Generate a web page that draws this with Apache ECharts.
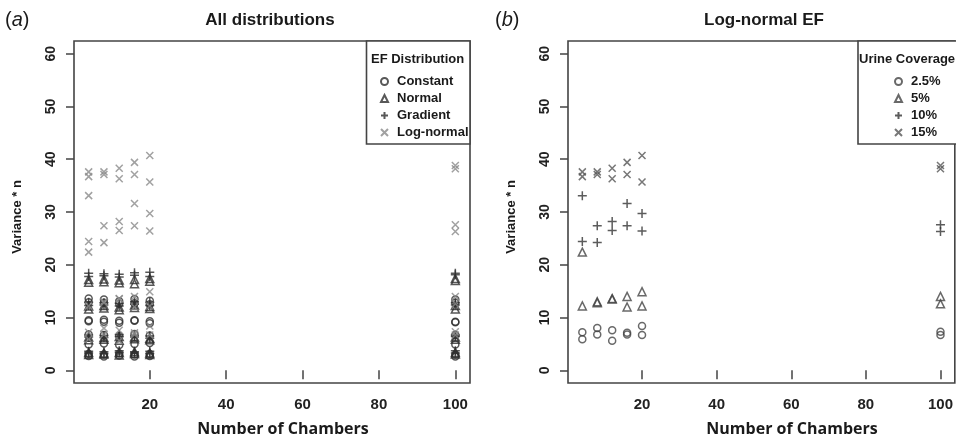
<!DOCTYPE html>
<html>
<head>
<meta charset="utf-8">
<script src="https://cdn.jsdelivr.net/npm/echarts@6/dist/echarts.min.js"></script>
<style>
  html, body { margin: 0; padding: 0; background: #ffffff; }
  #chart { width: 956px; height: 437px; }
</style>
</head>
<body>
<div id="chart"></div>
<script>
// Chamber counts on the x axis
const chambers = [4, 8, 12, 16, 20, 100];
const xTicks = [20, 40, 60, 80, 100];
const yTicks = [0, 10, 20, 30, 40, 50, 60];

// Variance * n, two replicate runs per chamber count (one [run1, run2] pair per entry of `chambers`)
// Constant EF
const constant25 = [[2.7, 3.1], [2.6, 3.0], [2.8, 3.2], [2.6, 3.0], [2.7, 3.1], [2.6, 3.0]];
const constant5  = [[4.9, 6.8], [5.1, 6.7], [4.8, 6.5], [5.0, 6.9], [5.2, 6.6], [4.9, 6.7]];
const constant10 = [[9.3, 9.5], [9.2, 9.6], [9.0, 9.4], [9.4, 9.5], [8.9, 9.3], [9.1, 9.2]];
const constant15 = [[12.9, 13.6], [12.8, 13.4], [12.6, 13.1], [12.7, 13.5], [12.5, 13.2], [12.8, 13.4]];
// Normal EF
const normal25 = [[3.0, 3.4], [3.1, 3.3], [2.9, 3.4], [3.2, 3.5], [3.0, 3.3], [3.1, 3.4]];
const normal5  = [[5.8, 6.3], [5.9, 6.2], [5.7, 6.4], [6.0, 6.3], [5.8, 6.1], [5.9, 6.3]];
const normal10 = [[11.6, 12.2], [11.8, 12.3], [11.5, 12.0], [11.9, 12.4], [11.7, 12.1], [11.6, 12.3]];
const normal15 = [[16.7, 17.2], [16.8, 17.3], [16.6, 17.1], [16.4, 17.2], [16.9, 17.4], [17.0, 17.4]];
// Gradient EF
const gradient25 = [[3.3, 3.6], [3.2, 3.5], [3.4, 3.7], [3.3, 3.5], [3.2, 3.6], [3.3, 3.7]];
const gradient5  = [[6.3, 6.7], [6.2, 6.6], [6.4, 6.8], [6.3, 6.6], [6.1, 6.5], [6.4, 6.7]];
const gradient10 = [[12.3, 12.9], [12.4, 12.8], [12.2, 12.7], [12.5, 13.0], [12.3, 12.9], [12.4, 12.8]];
const gradient15 = [[17.8, 18.4], [17.9, 18.3], [17.7, 18.2], [18.0, 18.5], [17.8, 18.6], [18.1, 18.4]];
// Log-normal EF, by urine coverage
const logNormal25 = [[7.2, 5.9], [8.0, 6.8], [7.6, 5.6], [7.1, 6.8], [8.4, 6.7], [7.3, 6.7]];
const logNormal5  = [[22.4, 12.2], [13.0, 12.8], [13.6, 13.5], [14.0, 12.0], [14.9, 12.2], [14.0, 12.6]];
const logNormal10 = [[33.1, 24.4], [27.4, 24.2], [28.2, 26.5], [31.6, 27.4], [29.7, 26.4], [27.6, 26.3]];
const logNormal15 = [[37.6, 36.7], [37.6, 37.1], [38.3, 36.3], [39.4, 37.1], [40.7, 35.7], [38.8, 38.2]];

const distributionNames = ['Constant', 'Normal', 'Gradient', 'Log-normal'];
const coverageNames = ['2.5%', '5%', '10%', '15%'];

// Flatten replicate pairs into [chambers, value] points
function toPoints(groups) {
  const pts = [];
  groups.forEach(function (g) {
    g.forEach(function (reps, i) {
      reps.forEach(function (v) { pts.push([chambers[i], v]); });
    });
  });
  return pts;
}

const FONT = "'Liberation Sans', Arial, sans-serif";
const DARK = '#2e2e2e';
const LIGHT = '#8a8a8a';
const FRAME = '#444444';

const SYMBOLS = {
  circle: 'circle',
  triangle: 'triangle',
  plus: 'path://M5,0L5,10M0,5L10,5',
  cross: 'path://M0,0L10,10M10,0L0,10'
};
const SIZES = { circle: 7, triangle: 8, plus: 9, cross: 7 };

function scatter(name, gridIdx, shape, color, data) {
  return {
    name: name,
    type: 'scatter',
    xAxisIndex: gridIdx,
    yAxisIndex: gridIdx,
    symbol: SYMBOLS[shape],
    symbolSize: SIZES[shape],
    data: data,
    itemStyle: { color: 'rgba(0,0,0,0)', borderColor: color, borderWidth: 1.5 },
    emphasis: { disabled: true }
  };
}

function xAxis(gridIdx) {
  return {
    type: 'value', gridIndex: gridIdx, min: 0.16, max: 103.84,
    axisLine: { show: false },
    splitLine: { show: false },
    axisTick: { show: true, length: 9, customValues: xTicks, lineStyle: { color: FRAME, width: 1.5 } },
    axisLabel: { customValues: xTicks, margin: 14, fontSize: 15, fontWeight: 'bold', fontFamily: FONT, color: '#222' }
  };
}
function yAxis(gridIdx) {
  return {
    type: 'value', gridIndex: gridIdx, min: -2.4, max: 62.4,
    axisLine: { show: false },
    splitLine: { show: false },
    axisTick: { show: true, length: 8, customValues: yTicks, lineStyle: { color: FRAME, width: 1.5 } },
    axisLabel: { customValues: yTicks, rotate: 90, margin: 16, fontSize: 14, fontWeight: 'bold', fontFamily: FONT, color: '#222' }
  };
}

function legend(names, left) {
  return {
    orient: 'vertical', left: left, top: 70,
    itemWidth: 7, itemHeight: 7, itemGap: 4,
    data: names, selectedMode: false, z: 10,
    textStyle: { fontSize: 13, fontWeight: 'bold', fontFamily: FONT, color: '#1a1a1a', lineHeight: 13, padding: [0, 0, 0, 4] }
  };
}

function text(x, y, str, font, extra) {
  return Object.assign({
    type: 'text', x: x, y: y, z: 20,
    style: { text: str, font: font, fill: '#1a1a1a', align: 'center', verticalAlign: 'middle' }
  }, extra || {});
}

const option = {
  animation: false,
  backgroundColor: '#ffffff',
  grid: [
    { left: 74, top: 41, width: 396, height: 342, show: true, borderColor: FRAME, borderWidth: 1.6, backgroundColor: 'transparent' },
    { left: 568, top: 41, width: 396, height: 342, show: true, borderColor: FRAME, borderWidth: 1.6, backgroundColor: 'transparent' }
  ],
  xAxis: [xAxis(0), xAxis(1)],
  yAxis: [yAxis(0), yAxis(1)],
  legend: [legend(distributionNames, 375), legend(coverageNames, 889)],
  series: [
    scatter('Constant', 0, 'circle', DARK, toPoints([constant25, constant5, constant10, constant15])),
    scatter('Normal', 0, 'triangle', DARK, toPoints([normal25, normal5, normal10, normal15])),
    scatter('Gradient', 0, 'plus', DARK, toPoints([gradient25, gradient5, gradient10, gradient15])),
    scatter('Log-normal', 0, 'cross', LIGHT, toPoints([logNormal25, logNormal5, logNormal10, logNormal15])),
    scatter('2.5%', 1, 'circle', '#444444', toPoints([logNormal25])),
    scatter('5%', 1, 'triangle', '#444444', toPoints([logNormal5])),
    scatter('10%', 1, 'plus', '#333333', toPoints([logNormal10])),
    scatter('15%', 1, 'cross', '#555555', toPoints([logNormal15]))
  ],
  graphic: [
    // legend frames
    { type: 'rect', z: 5, shape: { x: 366.5, y: 41, width: 103.5, height: 103 },
      style: { fill: '#ffffff', stroke: FRAME, lineWidth: 1.6 } },
    { type: 'rect', z: 5, shape: { x: 858, y: 41, width: 106, height: 103 },
      style: { fill: '#ffffff', stroke: FRAME, lineWidth: 1.6 } },
    text(371, 59, 'EF Distribution', 'bold 13px ' + FONT, { style: { text: 'EF Distribution', font: 'bold 13px ' + FONT, fill: '#1a1a1a', align: 'left', verticalAlign: 'middle' } }),
    text(859, 59, 'Urine Coverage', 'bold 13px ' + FONT, { style: { text: 'Urine Coverage', font: 'bold 13px ' + FONT, fill: '#1a1a1a', align: 'left', verticalAlign: 'middle' } }),
    // panel titles
    text(270, 20, 'All distributions', 'bold 17px ' + FONT),
    text(764, 20, 'Log-normal EF', 'bold 17px ' + FONT),
    // panel letters
    { type: 'text', x: 5, y: 20, z: 20,
      style: { text: '({i|a})', font: '20px ' + FONT, fill: '#1a1a1a', align: 'left', verticalAlign: 'middle',
        rich: { i: { fontStyle: 'italic', fontSize: 20, fontFamily: FONT } } } },
    { type: 'text', x: 495, y: 20, z: 20,
      style: { text: '({i|b})', font: '20px ' + FONT, fill: '#1a1a1a', align: 'left', verticalAlign: 'middle',
        rich: { i: { fontStyle: 'italic', fontSize: 20, fontFamily: FONT } } } },
    // axis names
    text(283, 429, 'Number of Chambers', "bold 16px 'Open Sans', sans-serif"),
    text(792, 429, 'Number of Chambers', "bold 16px 'Open Sans', sans-serif"),
    text(17, 217, 'Variance * n', 'bold 13px ' + FONT, { rotation: Math.PI / 2 }),
    text(511, 217, 'Variance * n', 'bold 13px ' + FONT, { rotation: Math.PI / 2 })
  ]
};

const chart = echarts.init(document.getElementById('chart'), null, { renderer: 'canvas' });
chart.setOption(option);
</script>
</body>
</html>
